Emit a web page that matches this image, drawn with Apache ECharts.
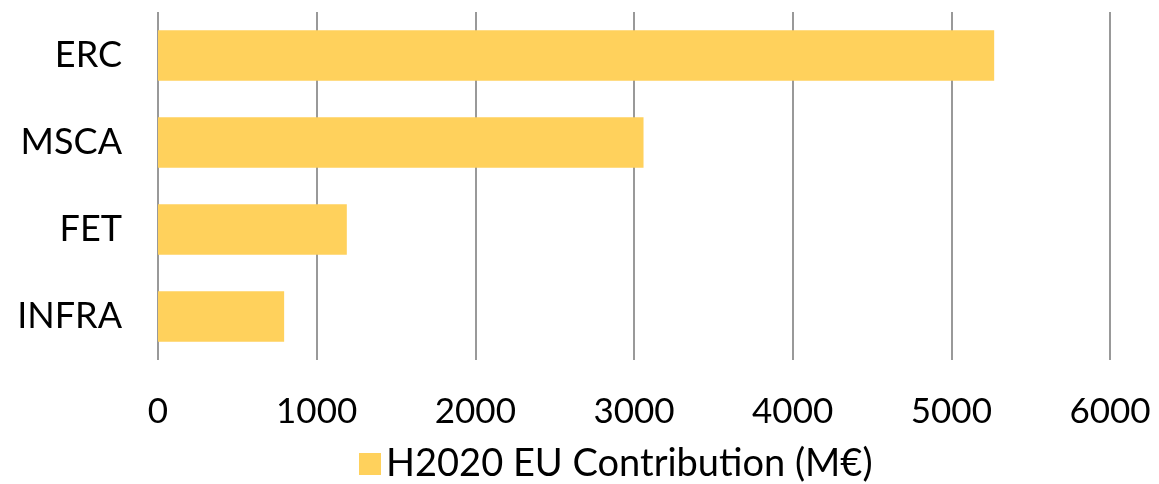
<!DOCTYPE html>
<html><head><meta charset="utf-8">
<script src="https://cdn.jsdelivr.net/npm/echarts@6/dist/echarts.min.js"></script>
<style>html,body{margin:0;padding:0;background:#fff}#c{width:1159px;height:484px}</style>
</head><body><div id="c"></div>
<script>
const categories = ['ERC', 'MSCA', 'FET', 'INFRA'];
const values = [5270, 3060, 1190, 795];
const seriesName = 'H2020 EU Contribution (M€)';
const xTicks = [0, 1000, 2000, 3000, 4000, 5000, 6000];

const FONT = 'Lato';
const chart = echarts.init(document.getElementById('c'));
chart.setOption({
  animation: false,
  textStyle: { fontFamily: FONT },
  grid: { left: 158, right: 49, top: 12, bottom: 124, containLabel: false },
  legend: {
    data: [seriesName], bottom: 1, left: 359, padding: 0,
    icon: 'rect', itemWidth: 22, itemHeight: 22, itemGap: 8,
    textStyle: { fontSize: 38, color: '#000', fontFamily: FONT }
  },
  xAxis: {
    type: 'value', min: 0, max: 6000, interval: 1000,
    axisLine: { show: false }, axisTick: { show: false },
    splitLine: { show: true, lineStyle: { color: '#999', width: 2 } },
    axisLabel: { fontSize: 35, color: '#000', margin: 34, fontFamily: FONT,
      formatter: v => xTicks.includes(v) ? String(v) : '' }
  },
  yAxis: {
    type: 'category', data: categories, inverse: true,
    axisLine: { show: false }, axisTick: { show: false },
    axisLabel: { fontSize: 36, color: '#000', margin: 36, fontFamily: FONT }
  },
  series: [{
    name: seriesName, type: 'bar', data: values,
    barCategoryGap: '42%',
    itemStyle: { color: '#FFD15C' }
  }]
});
</script></body></html>
